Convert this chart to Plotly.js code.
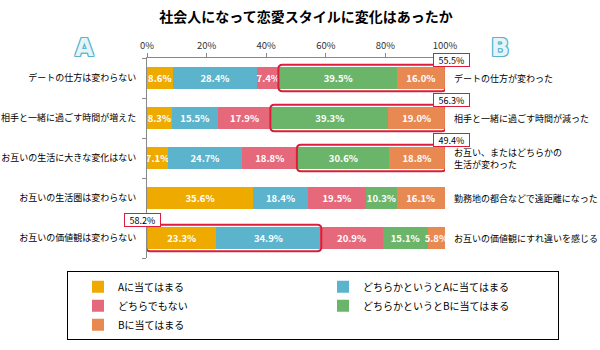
<!DOCTYPE html>
<html>
<head>
<meta charset="utf-8">
<script src="https://cdn.plot.ly/plotly-3.0.1.min.js"></script>
<style>html,body{margin:0;padding:0;background:#fff;}#chart{width:600px;height:350px;}</style>
</head>
<body>
<div id="chart"></div>
<script>
// ---- data ----
const leftLabels = ['デートの仕方は変わらない', '相手と一緒に過ごす時間が増えた', 'お互いの生活に大きな変化はない', 'お互いの生活圏は変わらない', 'お互いの価値観は変わらない'];
const rightLabels = ['デートの仕方が変わった', '相手と一緒に過ごす時間が減った', 'お互い、またはどちらかの<br>生活が変わった', '勤務地の都合などで遠距離になった', 'お互いの価値観にすれ違いを感じる'];
const seriesNames = ['Aに当てはまる', 'どちらかというとAに当てはまる', 'どちらでもない', 'どちらかというとBに当てはまる', 'Bに当てはまる'];
const aYes = [8.6, 8.3, 7.1, 35.6, 23.3];
const aRather = [28.4, 15.5, 24.7, 18.4, 34.9];
const neither = [7.4, 17.9, 18.8, 19.5, 20.9];
const bRather = [39.5, 39.3, 30.6, 10.3, 15.1];
const bYes = [16.0, 19.0, 18.8, 16.1, 5.8];
const axisTicks = [0, 20, 40, 60, 80, 100];
const axisTickText = ['0%', '20%', '40%', '60%', '80%', '100%'];
// highlighted groups
const hlRow = [0, 1, 2, 4];
const hlFromSeg = [3, 3, 3, 0];
const hlToSeg = [5, 5, 5, 2];
const hlLabel = ['55.5%', '56.3%', '49.4%', '58.2%'];
const hlSide = ['right', 'right', 'right', 'left'];

const series = [aYes, aRather, neither, bRather, bYes];
const colors = ['#EFAA00', '#5BB3CC', '#E6697B', '#6BB56B', '#E88952'];
const FONT = "'Noto Sans CJK JP', 'Noto Sans', sans-serif";
const RED = '#DC1E3C';
const rows = leftLabels.map((_, i) => i);

const traces = series.map((vals, s) => ({
  type: 'bar', orientation: 'h',
  x: vals, y: rows, name: seriesNames[s],
  marker: {color: colors[s], line: {width: 0}},
  texttemplate: '%{x:.1f}%', textposition: 'inside', insidetextanchor: 'middle',
  textangle: 0, constraintext: 'none',
  textfont: {color: '#ffffff', size: 9.5, family: FONT, weight: 'bold'},
  hoverinfo: 'none'
}));

function cum(row, seg) {
  let t = 0;
  for (let k = 0; k < seg; k++) t += series[k][row];
  return t;
}
function roundRect(x0, x1, y0, y1, rx, ry) {
  return `M${x0 + rx},${y0} L${x1 - rx},${y0} Q${x1},${y0} ${x1},${y0 + ry} ` +
         `L${x1},${y1 - ry} Q${x1},${y1} ${x1 - rx},${y1} L${x0 + rx},${y1} ` +
         `Q${x0},${y1} ${x0},${y1 - ry} L${x0},${y0 + ry} Q${x0},${y0} ${x0 + rx},${y0} Z`;
}
const HALF = 0.33;
const shapes = hlRow.map((r, i) => {
  const x0 = cum(r, hlFromSeg[i]);
  const x1 = hlToSeg[i] >= series.length ? 100 : cum(r, hlToSeg[i]);
  return {type: 'path', xref: 'x', yref: 'y',
    path: roundRect(x0 - 0.3, x1 + 0.3, r - HALF, r + HALF, 1.4, 0.1),
    line: {color: RED, width: 2}, fillcolor: 'rgba(0,0,0,0)'};
});

const annotations = [];
hlRow.forEach((r, i) => {
  const right = hlSide[i] === 'right';
  annotations.push({
    xref: 'x', yref: 'y', x: right ? 100 : 0, y: r - HALF,
    xshift: right ? 6 : -5, yshift: 5,
    text: hlLabel[i], showarrow: false,
    font: {size: 9, color: '#000', family: FONT},
    bgcolor: '#ffffff', bordercolor: RED, borderwidth: 1, borderpad: 1,
    width: 33, height: 10, xanchor: 'center', yanchor: 'middle'
  });
});
rightLabels.forEach((t, i) => {
  annotations.push({
    xref: 'x', yref: 'y', x: 100, y: i, xshift: 7,
    text: t, showarrow: false, xanchor: 'left', yanchor: 'middle', align: 'left',
    font: {size: 9, color: '#000', family: FONT}
  });
});
const outline = ['1px 0 #5AB4CC', '-1px 0 #5AB4CC', '0 1px #5AB4CC', '0 -1px #5AB4CC',
  '1px 1px #5AB4CC', '-1px -1px #5AB4CC', '1px -1px #5AB4CC', '-1px 1px #5AB4CC'].join(', ');
[['A', 0.129], ['B', 0.845]].forEach(([t, x]) => {
  annotations.push({
    xref: 'paper', yref: 'paper', x: x, y: 1.05, text: t, showarrow: false,
    xanchor: 'center', yanchor: 'middle',
    font: {size: 24, color: '#E4F4F9', family: "'DejaVu Sans', sans-serif", weight: 'bold', shadow: outline}
  });
});

const layout = {
  width: 600, height: 350,
  margin: {l: 10, r: 10, t: 58, b: 80},
  paper_bgcolor: '#ffffff', plot_bgcolor: '#ffffff',
  barmode: 'stack', bargap: 0.46,
  font: {family: FONT, color: '#000'},
  title: {text: '社会人になって恋愛スタイルに変化はあったか', font: {size: 14, weight: 'bold', color: '#000', family: FONT},
          x: 0.51, xref: 'container', xanchor: 'center', y: 0.951, yref: 'container', yanchor: 'middle'},
  xaxis: {domain: [(147 - 10) / 580, (445 - 10) / 580], side: 'top', range: [0, 100],
          tickvals: axisTicks, ticktext: axisTickText, ticks: 'outside', ticklen: 4, tickcolor: '#888',
          showline: true, linecolor: '#888', showgrid: false, zeroline: false,
          tickfont: {size: 9.5, color: '#333', family: FONT}, fixedrange: true},
  yaxis: {range: [4.5, -0.5], tickvals: rows, ticktext: leftLabels, ticks: '',
          ticklabelstandoff: 8,
          minor: {tick0: -0.5, dtick: 1, ticks: 'outside', ticklen: 4, tickcolor: '#888', showgrid: false},
          showline: true, linecolor: '#888', showgrid: false, zeroline: false,
          tickfont: {size: 9, color: '#000', family: FONT}, fixedrange: true},
  showlegend: true,
  legend: {orientation: 'h', x: (67 - 10) / 580, xanchor: 'left', y: -14 / 212, yanchor: 'top',
           entrywidth: 190, entrywidthmode: 'pixels', indentation: 10,
           bordercolor: '#000', borderwidth: 1, bgcolor: '#ffffff', traceorder: 'normal',
           font: {size: 10, color: '#000', family: FONT}},
  shapes: shapes, annotations: annotations
};
Plotly.newPlot('chart', traces, layout, {displayModeBar: false, staticPlot: true});
</script>
</body>
</html>
